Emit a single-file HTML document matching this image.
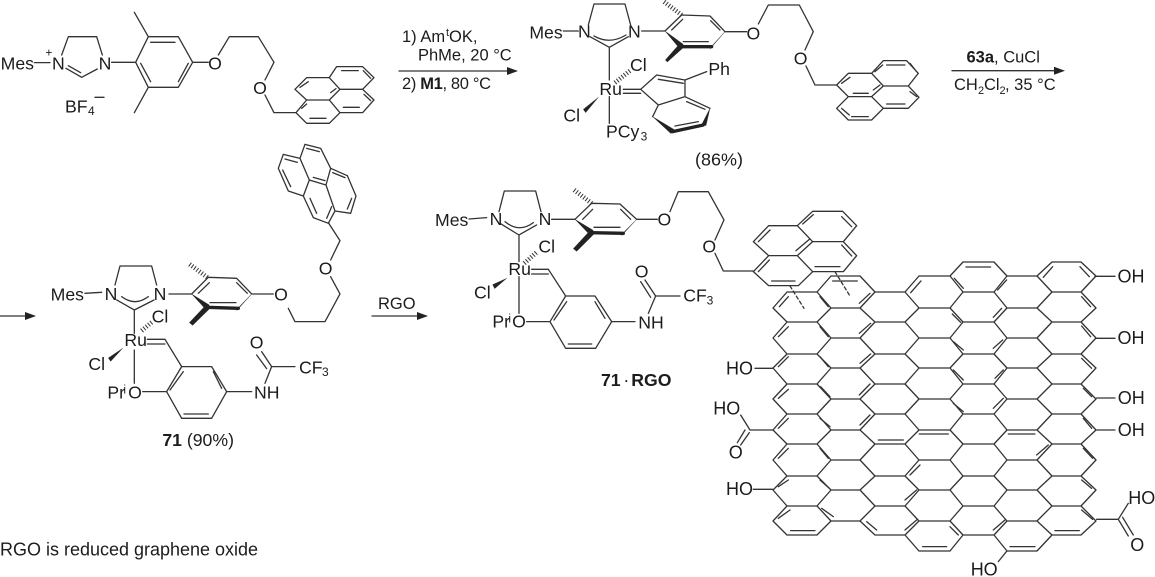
<!DOCTYPE html>
<html><head><meta charset="utf-8"><style>
html,body{margin:0;padding:0;background:#fff}
svg{display:block}
text{font-family:"Liberation Sans",sans-serif;fill:#1c1c1c;stroke:none}
.l{fill:none;stroke:#333;stroke-width:3.9;stroke-linecap:round;stroke-linejoin:round}
.r{fill:none;stroke:#333;stroke-width:1.3;stroke-linecap:round;stroke-linejoin:round}
.t{font-size:53px}.s{font-size:36px}.b{font-weight:bold}
.c{text-anchor:middle}
.w{fill:#222;stroke:#222;stroke-width:1}
.k{fill:none;stroke:#222;stroke-width:10;stroke-linecap:round;stroke-linejoin:round}
.h{fill:none;stroke:#333;stroke-width:14;stroke-dasharray:3 6}
</style></head><body>
<svg width="1155" height="577" viewBox="0 0 1155 577" xmlns="http://www.w3.org/2000/svg">
<rect width="1155" height="577" fill="#fff"/>

<!-- Structure 1 -->
<g transform="scale(.3333)">
<path class="l" d="M103 188H150M185 165L205 110H290L307 165M198 205L245 232L292 207M205 197L242 218M335 187H407L445 110H535L578 187L535 262H445L407 187M445 110L403 37M445 262L403 338M452 127H525M422 190L452 245M535 245L565 190M578 187H625M655 165L688 110H775L822 187L795 240M795 285L822 338H888"/>
<path class="l" d="M888 338L920 370H988L1020 338L988 300H920L888 338M920 300L885 268L920 233H988L1020 268L988 300M988 233L1010 200H1088L1122 233L1088 268H1020M1020 338H1088L1122 300L1088 268M930 355H978M1030 322H1078M1092 283L1112 302M900 262L925 245M992 278L1008 266M1025 212H1075M1090 212L1112 235M905 325L920 312M285 292H312"/>
<text class="t" x="2" y="208">Mes</text><text class="s" x="136" y="170">+</text>
<text class="t" x="156" y="208">N</text><text class="t" x="296" y="208">N</text>
<text class="t c" x="645" y="208">O</text><text class="t c" x="780" y="282">O</text>
<text class="t" x="195" y="337">BF</text><text class="s" x="264" y="345">4</text>
</g>

<!-- Arrow 1 -->
<path class="r" d="M399 71H510"/><path d="M518 71L507 67V75Z" fill="#222"/>
<text x="402" y="42" font-size="16.5">1) Am</text><text x="446" y="36" font-size="11">t</text><text x="449" y="42" font-size="16.5">OK,</text>
<text x="418" y="60.5" font-size="16.5">PhMe, 20 °C</text>
<text x="402" y="89" font-size="16.5" textLength="89" lengthAdjust="spacing">2) <tspan font-weight="bold">M1</tspan>, 80 °C</text>

<!-- Structure 2 -->
<g transform="translate(520 0) scale(.3333)">
<path class="l" d="M130 93H175M205 75L222 12H315L332 75M210 110L268 142L325 110M222 108Q268 135 318 105M268 142V240M365 93H435L485 45L570 48L615 95M455 90L488 58M572 62L600 90M490 125H565M615 95H680M715 72L745 15H838L880 95L855 150M858 198L885 255H950"/>
<path class="l" d="M950 255L985 220H1055L1090 258L1055 290H985L950 255M1055 220L1090 182H1160L1195 220L1165 258H1090M985 290L950 325L985 360H1055L1090 325L1055 290M1090 325H1165L1197 292L1165 258M965 250L990 232M1065 215L1088 195M1100 195H1155M1170 190L1190 215M1060 270L1080 255M1000 280H1045M1100 312H1155M965 325L988 345M995 350H1045M1170 275L1190 290"/>
<path class="k" d="M485 140H575"/><path class="w" d="M435 93L480 147L490 133Z"/><path class="w" d="M570 147L580 133L615 95Z"/><path class="w" d="M480 130L490 143L442 186L436 180Z"/>
<path class="h" d="M485 45L432 5"/>
<text class="t" x="28" y="115">Mes</text><text class="t c" x="193" y="113">N</text><text class="t c" x="343" y="113">N</text>
<text class="t c" x="700" y="118">O</text><text class="t c" x="842" y="193">O</text>
<text class="t" x="330" y="213">Cl</text><text class="t" x="238" y="285">Ru</text>
<path class="h" d="M285 248L330 212"/>
<path class="l" d="M310 268H362M310 280H362M362 268L410 225L495 240V290L415 315L362 268M415 238L490 250M495 240L560 215M495 290L570 325M415 315L398 350M500 305L555 328M465 378L535 365M268 290V370"/>
<path class="w" d="M570 325L558 377L546 372Z"/><path class="k" d="M550 375L458 395"/><path class="w" d="M398 350L453 401L463 389Z"/>
<path class="w" d="M235 292L190 328L197 338Z"/>
<text class="t" x="565" y="225">Ph</text><text class="t" x="130" y="365">Cl</text>
<text class="t" x="258" y="413">PCy</text><text class="s" x="362" y="421">3</text>
<text class="t c" x="597" y="497" style="font-size:54px">(86%)</text>
</g>

<!-- Arrow 2 -->
<path class="r" d="M952 70.7H1057"/><path d="M1065 70.7L1054 66.7V74.7Z" fill="#222"/>
<text x="966.5" y="62.5" font-size="16.5"><tspan font-weight="bold">63a</tspan>, CuCl</text>
<text x="954" y="90" font-size="16.5">CH</text><text x="978" y="94" font-size="11">2</text><text x="984" y="90" font-size="16.5">Cl</text><text x="999.5" y="94" font-size="11">2</text><text x="1005" y="90" font-size="16.5">, 35 °C</text>

<!-- Arrow 3 -->
<path class="r" d="M0 316H28"/><path d="M36 316L25 312V320Z" fill="#222"/>

<!-- Structure 71 -->
<g transform="translate(0 160) scale(.3333)">
<path class="l" d="M255 400L305 397M345 375L360 318H455L470 375M350 420L403 450L462 420M365 410Q405 440 445 410M403 450V520M403 570V670M507 402H575L625 352L710 355L755 402M595 400L628 368M710 368L742 400M630 428H708M755 402H820M865 445L885 485H975L1020 402L992 350M992 300L1020 242L985 188"/>
<path class="k" d="M622 442L715 445"/><path class="w" d="M575 402L618 449L628 435Z"/><path class="w" d="M710 452L720 438L755 402Z"/><path class="w" d="M617 436L628 447L578 496L568 488Z"/>
<path class="h" d="M622 352L568 312"/><path class="h" d="M425 512L455 487"/>
<path class="w" d="M368 565L325 594L332 604Z"/>
<path class="l" d="M442 538H495M442 552H495M495 538L545 620H635L680 695L635 775H545L500 695L545 620M510 690L550 635M640 635L665 685M552 762H625M428 695H500M680 695H755M795 670L815 620H885M815 620L785 575M800 626L770 585"/>
<text class="t" x="152" y="422">Mes</text><text class="t c" x="333" y="420">N</text><text class="t c" x="480" y="420">N</text>
<text class="t c" x="843" y="422">O</text><text class="t c" x="977" y="343">O</text>
<text class="t" x="455" y="487">Cl</text><text class="t" x="373" y="558">Ru</text><text class="t" x="265" y="630">Cl</text>
<text class="t" x="322" y="715">Pr</text><text class="s" x="370" y="700">i</text><text class="t c" x="405" y="715">O</text>
<text class="t" x="762" y="715">NH</text><text class="t c" x="770" y="565">O</text>
<text class="t" x="897" y="640">CF</text><text class="s" x="966" y="648">3</text>
<text x="487" y="858" class="t"><tspan font-weight="bold">71</tspan> (90%)</text>
</g>
<g transform="translate(260 135) scale(.3333)">
<path class="l" d="M120 70L135 28L182 40L212 100L198 150L148 135L120 70M120 70L70 58L55 100L85 168L130 183L148 135M212 100L262 122L288 183L272 235L225 228L198 150M130 183L160 248L205 265L225 228M140 40L178 50M75 72L112 82M68 105L92 155M150 190L170 235M160 127L195 137M218 113L255 128M275 190L262 222M200 250L215 215"/>
</g>

<!-- Arrow 4 -->
<path class="r" d="M372 316H420"/><path d="M428 316L417 312V320Z" fill="#222"/>
<text x="378" y="309" font-size="16.5">RGO</text>

<!-- Structure 71·RGO -->
<g transform="translate(420 170) scale(.3333)">
<path class="l" d="M147 147L200 143M237 125L253 63H347L363 125M240 160L297 195L350 165M255 155Q297 190 340 158M297 195V275M297 320V430M395 148H465L515 100L600 102L650 148M488 148L518 118M602 118L632 148M522 172H600M650 148H712M750 125L775 65H865L912 150L885 210M885 250L910 303H1000"/>
<path class="k" d="M515 188L610 190"/><path class="w" d="M465 148L510 195L520 181Z"/><path class="w" d="M605 197L615 183L650 148Z"/><path class="w" d="M510 182L521 193L470 244L460 236Z"/>
<path class="h" d="M515 100L460 58"/><path class="h" d="M313 280L352 245"/>
<path class="w" d="M260 325L218 344L224 356Z"/>
<path class="l" d="M335 298H385M335 312H385M385 298L437 378H525L575 455L527 535H437L390 455L437 378M402 450L440 395M525 395L555 445M445 522H515M320 455H390M575 455H645M685 430L707 378H780M707 378L675 330M692 382L662 335"/>
<text class="t" x="45" y="168">Mes</text><text class="t c" x="228" y="165">N</text><text class="t c" x="375" y="165">N</text>
<text class="t c" x="733" y="167">O</text><text class="t c" x="868" y="247">O</text>
<text class="t" x="355" y="248">Cl</text><text class="t" x="265" y="315">Ru</text><text class="t" x="162" y="385">Cl</text>
<text class="t" x="217" y="472">Pr</text><text class="s" x="265" y="457">i</text><text class="t c" x="297" y="472">O</text>
<text class="t" x="655" y="475">NH</text><text class="t c" x="665" y="322">O</text>
<text class="t" x="790" y="395">CF</text><text class="s" x="860" y="403">3</text>
<text class="t b" x="543" y="648">71</text><text class="t" x="610" y="648">·</text><text class="t b" x="634" y="648">RGO</text>
</g>

<!-- Graphene lattice -->
<path class="r" d="M787 292L773 308 787 322 773 338 787 354 773 368 787 384 773 399 787 414 773 430 787 444 773 460 787 476 773 490 787 506 773 521 787 535
M831 276L817 292 831 308 817 322 831 338 817 354 831 368 817 384 831 399 817 414 831 430 817 444 831 460 817 476 831 490 817 506 831 521 817 535
M860 276L875 292 860 308 875 322 860 338 875 354 860 368 875 384 860 399 875 414 860 430 875 444 860 460 875 476 860 490 875 506 860 521 875 535
M919 276L905 292 919 308 905 322 919 338 905 354 919 368 905 384 919 399 905 414 919 430 905 444 919 460 905 476 919 490 905 506 919 521 905 535 919 551
M963 262L950 276 963 292 950 308 963 322 950 338 963 354 950 368 963 384 950 399 963 414 950 430 963 444 950 460 963 476 950 490 963 506 950 521 963 535 950 551
M994 262L1007 276 994 292 1007 308 994 322 1007 338 994 354 1007 368 994 384 1007 399 994 414 1007 430 994 444 1007 460 994 476 1007 490 994 506 1007 521 994 535 1007 551
M1052 262L1037 276 1052 292 1037 308 1052 322 1037 338 1052 354 1037 368 1052 384 1037 399 1052 414 1037 430 1052 444 1037 460 1052 476 1037 490 1052 506 1037 521 1052 535 1037 551
M1081 262L1096 276 1081 292 1096 308 1081 322 1096 338 1081 354 1096 368 1081 384 1096 399 1081 414 1096 430 1081 444 1096 460 1081 476 1096 490 1081 506 1096 521 1081 535
M787 292H817M787 322H817M787 354H817M787 384H817M787 414H817M787 444H817M787 476H817M787 506H817M787 535H817
M831 276H860M831 308H860M831 338H860M831 368H860M831 399H860M831 430H860M831 460H860M831 490H860M831 521H860
M875 292H905M875 322H905M875 354H905M875 384H905M875 414H905M875 444H905M875 476H905M875 506H905M875 535H905
M919 276H950M919 308H950M919 338H950M919 368H950M919 399H950M919 430H950M919 460H950M919 490H950M919 521H950M919 551H950
M963 262H994M963 292H994M963 322H994M963 354H994M963 384H994M963 414H994M963 444H994M963 476H994M963 506H994M963 535H994
M1007 276H1037M1007 308H1037M1007 338H1037M1007 368H1037M1007 399H1037M1007 430H1037M1007 460H1037M1007 490H1037M1007 521H1037M1007 551H1037
M1052 262H1081M1052 292H1081M1052 322H1081M1052 354H1081M1052 384H1081M1052 414H1081M1052 444H1081M1052 476H1081M1052 506H1081M1052 535H1081"/>

<!-- Upper graphene doubles and pyrene -->
<g transform="translate(720 200) scale(.3333)">
<path class="l" d="M178 320L205 290M300 290L325 320M338 243H412M418 310L450 280M572 278L603 243M703 235L730 265M738 201H812M833 270L860 240M970 232L998 200M1080 200L1108 230M1085 290L1112 320M175 410L205 380M300 380L325 410M418 400L452 370M697 342L722 367M820 352L845 325M1085 378L1112 410M175 500L205 470M300 470L325 500M420 490L452 462M700 425L730 450M820 445L848 420M700 510L730 540M825 535L850 510M1085 475L1115 505"/>
<path class="l" d="M278 34H368L410 77L370 125H278L232 77L278 34M232 77H146L100 125L146 167H232L278 125M232 167L278 215H370L410 167L370 125M278 215L235 257H146L100 215L146 167M248 72L280 44M365 50L395 80M115 125L150 90M228 152L268 118M365 135L395 168M285 200H360M155 243H225M115 215L148 180M105 505H158M1125 229H1185M1130 415H1185"/>
<path class="l" stroke-dasharray="10 8" d="M210 258L252 325M345 215L388 285"/>
</g>
<!-- Lower graphene doubles and substituents -->
<g transform="translate(700 380) scale(.3333)">
<path class="l" d="M235 55L265 28M362 20L390 50M478 45L510 12M760 70L790 95M880 85L910 55M1150 25L1175 50M235 145L265 115M360 115L390 140M480 135L510 105M535 180H610M658 162H745M925 162H1005M1150 115L1175 145M235 235L265 205M360 205L385 235M1010 225L1045 195M1150 205L1178 235M630 285L660 255M235 320L265 300M360 300L388 325M615 360L650 330M1145 300L1175 325M235 415L270 390M365 385L400 410M272 452H345M500 425L530 450M615 450L650 420M668 500H740M750 440L775 465M880 450L915 420M930 500H1005M1065 452H1138M1145 390L1178 418"/>
<path class="l" d="M1190 54H1245M1190 150H1245M218 150H150L122 105M148 158L122 195M135 150L112 188M160 328H218M1190 418H1255L1285 370M1255 418L1285 468M1268 412L1300 465M895 545L920 514"/>
</g>
<text x="1117.5" y="282.7" font-size="18">OH</text>
<text x="1117.5" y="344" font-size="18">OH</text>
<text x="726" y="374.3" font-size="18">HO</text>
<text x="1117.7" y="404" font-size="18">OH</text>
<text x="1117.7" y="436" font-size="18">OH</text>
<text x="713.3" y="414.3" font-size="18">HO</text>
<text x="735.7" y="458.5" font-size="18" class="c">O</text>
<text x="726" y="495" font-size="18">HO</text>
<text x="1128.3" y="504" font-size="18">HO</text>
<text x="1137.3" y="551" font-size="18" class="c">O</text>
<text x="970.7" y="575.5" font-size="18">HO</text>

<text x="0" y="555.6" font-size="18" textLength="258" lengthAdjust="spacingAndGlyphs">RGO is reduced graphene oxide</text>
</svg>
</body></html>
